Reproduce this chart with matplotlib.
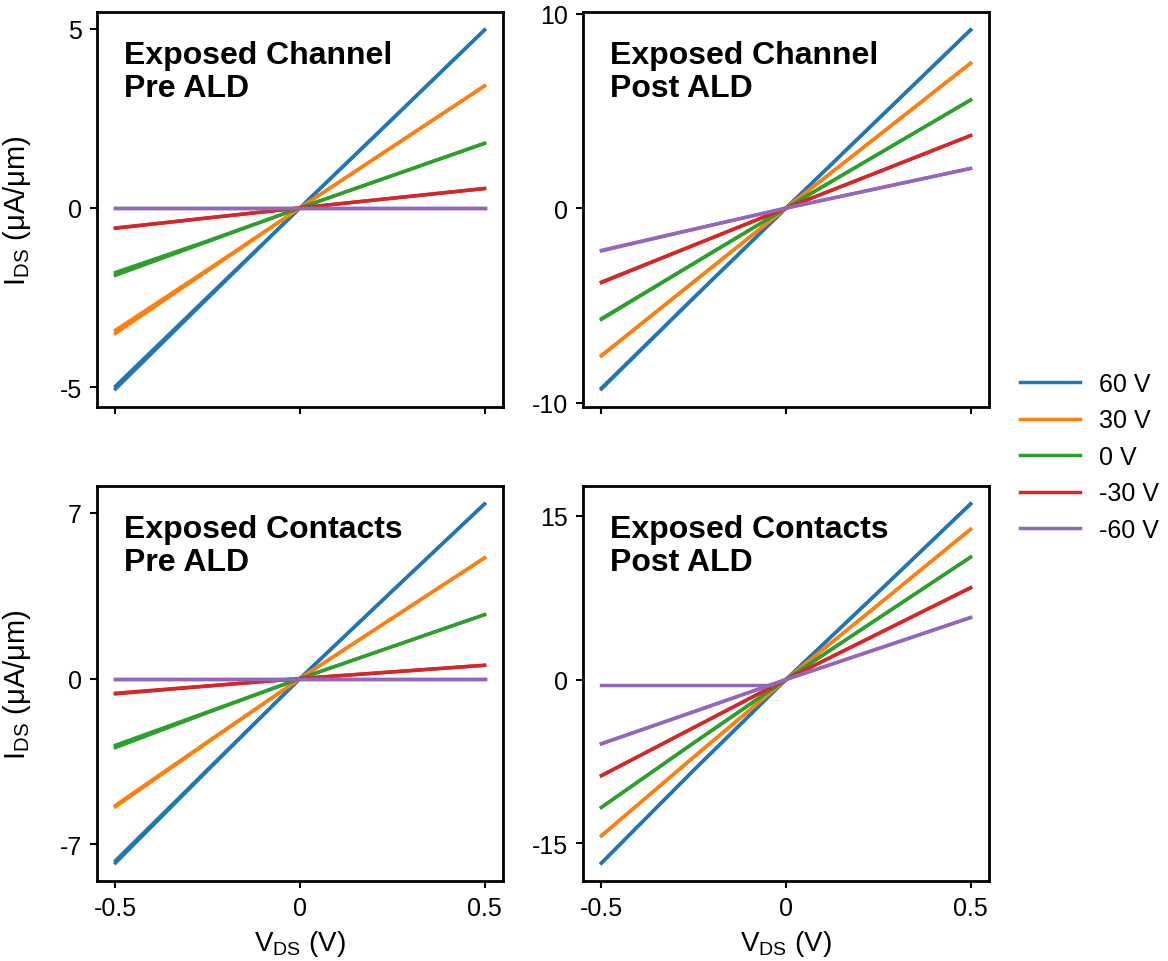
import matplotlib
matplotlib.use('Agg')
import matplotlib.pyplot as plt
import numpy as np

plt.rcParams['font.family'] = ['Liberation Sans', 'DejaVu Sans']
plt.rcParams['mathtext.fontset'] = 'custom'
plt.rcParams['mathtext.rm'] = 'Liberation Sans'
plt.rcParams['axes.unicode_minus'] = False

# gate voltages and drain sweep points
gate_labels = ['60 V', '30 V', '0 V', '-30 V', '-60 V']
colors = ['#1f77b4', '#ff7f0e', '#2ca02c', '#d62728', '#9467bd']
vds_fwd = [-0.5, -0.25, 0.0, 0.25, 0.5]
vds_rev = [0.5, 0.25, 0.0, -0.25, -0.5]

# I_DS (uA/um), one row per gate voltage
chan_pre_fwd = [[-4.97, -2.48, 0.0, 2.48, 4.96],
                [-3.41, -1.72, 0.0, 1.70, 3.40],
                [-1.80, -0.92, 0.0, 0.90, 1.80],
                [-0.56, -0.28, 0.0, 0.27, 0.54],
                [0.0, 0.0, 0.0, 0.0, 0.0]]
chan_pre_rev = [[4.96, 2.47, 0.0, -2.52, -5.05],
                [3.40, 1.70, 0.0, -1.75, -3.50],
                [1.80, 0.90, 0.0, -0.94, -1.88],
                [0.54, 0.27, 0.0, -0.28, -0.57],
                [0.0, 0.0, 0.0, 0.0, 0.0]]

chan_post_fwd = [[-9.25, -4.60, 0.0, 4.58, 9.16],
                 [-7.57, -3.78, 0.0, 3.72, 7.45],
                 [-5.68, -2.84, 0.0, 2.78, 5.56],
                 [-3.80, -1.90, 0.0, 1.86, 3.73],
                 [-2.17, -1.08, 0.0, 1.02, 2.04]]
chan_post_rev = [[9.16, 4.58, 0.0, -4.62, -9.30],
                 [7.45, 3.72, 0.0, -3.79, -7.60],
                 [5.56, 2.78, 0.0, -2.85, -5.72],
                 [3.73, 1.86, 0.0, -1.91, -3.83],
                 [2.04, 1.02, 0.0, -1.09, -2.20]]

cont_pre_fwd = [[-7.70, -3.84, 0.0, 3.70, 7.38],
                [-5.36, -2.67, 0.0, 2.55, 5.10],
                [-2.82, -1.41, 0.0, 1.35, 2.70],
                [-0.62, -0.31, 0.0, 0.28, 0.56],
                [0.0, 0.0, 0.0, 0.0, 0.0]]
cont_pre_rev = [[7.38, 3.70, 0.0, -3.88, -7.80],
                [5.10, 2.55, 0.0, -2.70, -5.42],
                [2.70, 1.35, 0.0, -1.44, -2.92],
                [0.56, 0.28, 0.0, -0.32, -0.65],
                [0.0, 0.0, 0.0, 0.0, 0.0]]

cont_post_fwd = [[-16.8, -8.30, 0.0, 8.00, 16.07],
                 [-14.3, -7.10, 0.0, 6.85, 13.75],
                 [-11.7, -5.80, 0.0, 5.60, 11.2],
                 [-8.80, -4.40, 0.0, 4.20, 8.40],
                 [-5.88, -2.95, 0.0, 2.83, 5.67]]
cont_post_rev = [[16.07, 8.00, 0.0, -8.30, -16.8],
                 [13.75, 6.85, 0.0, -7.10, -14.3],
                 [11.2, 5.60, 0.0, -5.80, -11.7],
                 [8.40, 4.20, 0.0, -4.40, -8.80],
                 [5.67, 2.83, 0.0, -2.95, -5.88]]
# -60 V curve in the last panel has a flat start
cont_post_m60_vds = [-0.5, -0.04]
cont_post_m60_ids = [-0.46, -0.46]

panels = [
    (chan_pre_fwd, chan_pre_rev, 'Exposed Channel\nPre ALD', [-5, 0, 5]),
    (chan_post_fwd, chan_post_rev, 'Exposed Channel\nPost ALD', [-10, 0, 10]),
    (cont_pre_fwd, cont_pre_rev, 'Exposed Contacts\nPre ALD', [-7, 0, 7]),
    (cont_post_fwd, cont_post_rev, 'Exposed Contacts\nPost ALD', [-15, 0, 15]),
]

W, H = 1168, 962
fig = plt.figure(figsize=(W / 100, H / 100), dpi=100)
boxes = [(97, 13), (583, 13), (97, 487), (583, 487)]
axes = []
for (x0, y0) in boxes:
    ax = fig.add_axes([x0 / W, 1 - (y0 + 395) / H, 406 / W, 395 / H])
    axes.append(ax)

for i, (ax, (fwd, rev, title, yt)) in enumerate(zip(axes, panels)):
    for k in range(5):
        ax.plot(vds_fwd, fwd[k], color=colors[k], lw=2.5)
        ax.plot(vds_rev, rev[k], color=colors[k], lw=2.5, label=gate_labels[k])
    if i == 3:
        ax.plot(cont_post_m60_vds, cont_post_m60_ids, color=colors[4], lw=2.5)
    ax.text(0.066, 0.93, title, transform=ax.transAxes, fontsize=23,
            fontweight='bold', va='top', ha='left', linespacing=1.13)
    ax.set_yticks(yt)
    ax.set_yticklabels([str(v) for v in yt])
    ax.set_xticks([-0.5, 0, 0.5])
    for s in ax.spines.values():
        s.set_linewidth(2)
    ax.tick_params(labelsize=18, width=1.5, length=5, pad=6)
    if i < 2:
        ax.set_xticklabels([])
    else:
        ax.set_xticklabels(['-0.5', '0', '0.5'])
        ax.set_xlabel('V$_{\\mathrm{DS}}$ (V)', fontsize=20)
        ax.xaxis.set_label_coords(0.5, -0.12)
    if i % 2 == 0:
        ax.set_ylabel('I$_{\\mathrm{DS}}$ ($\\mathrm{\\mu}$A/$\\mathrm{\\mu}$m)', fontsize=21)
        ax.yaxis.set_label_coords(-0.157, 0.5)

handles, labels = axes[0].get_legend_handles_labels()
fig.legend(handles, labels, loc='center left', bbox_to_anchor=(1020 / W, 1 - 458 / H),
           frameon=False, fontsize=18, borderpad=0, borderaxespad=0,
           handlelength=2.4, handletextpad=0.75, labelspacing=0.5)

plt.savefig('out.png', dpi=100)
